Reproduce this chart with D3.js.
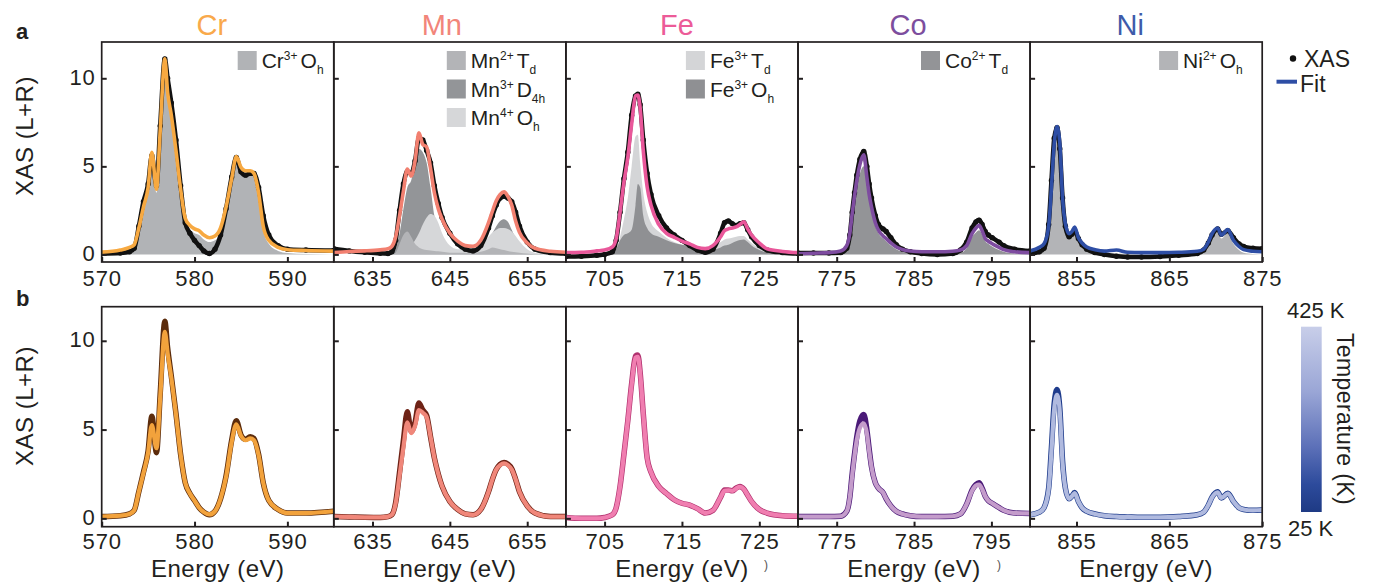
<!DOCTYPE html>
<html><head><meta charset="utf-8">
<script src="https://cdn.jsdelivr.net/npm/d3@7"></script>
<style>
body{margin:0;background:#fff}
svg{display:block}
text{font-family:"Liberation Sans",Arial,Helvetica,sans-serif;fill:#231F20}
</style>
</head><body><svg id="chart" width="1375" height="582"></svg>
<script>
// ---------------- DATA ----------------
const elements = ["Cr","Mn","Fe","Co","Ni"];

const crE    = [570,572,573,573.5,574,574.5,575,575.4,575.9,576.3,576.8,577.1,577.5,578,578.5,579,579.5,580,580.5,581,581.6,582.2,582.8,583.4,584,584.5,585,585.5,586,586.4,586.9,587.4,588,589,590,592,595];
const crXAS  = [0.05,0.08,0.15,0.35,1.6,3.0,4.0,5.6,3.9,7.3,11.1,10.0,8.6,6.5,3.9,1.8,1.2,0.8,0.5,0.2,0.05,0.3,1.1,2.6,4.4,5.5,4.7,4.5,4.6,4.6,3.8,2.2,1.1,0.5,0.3,0.25,0.22];
const crFit  = [0.13,0.25,0.4,0.55,1.5,2.7,3.8,5.8,3.7,7.0,11.1,9.2,7.9,5.9,3.7,2.05,1.65,1.45,1.35,1.1,0.95,1.05,1.5,2.7,4.3,5.55,4.95,4.75,4.75,4.6,3.5,1.6,0.8,0.4,0.27,0.22,0.19];
const crOh3  = [0,0.02,0.1,0.3,1.3,2.5,3.6,5.5,3.5,6.8,10.8,9.0,7.7,5.7,3.5,1.8,1.4,1.2,1.1,0.85,0.7,0.8,1.25,2.5,4.1,5.35,4.75,4.55,4.55,4.4,3.3,1.4,0.6,0.2,0.08,0.02,0];
const crLowT = [0.1,0.15,0.25,0.45,1.5,2.6,3.8,5.75,3.7,7.0,11.1,9.6,8.0,5.9,3.6,2.0,1.4,1.0,0.6,0.35,0.2,0.4,1.1,2.4,4.4,5.5,4.7,4.45,4.6,4.5,3.6,2.0,1.0,0.5,0.3,0.3,0.4];
const crHighT= [0.1,0.15,0.25,0.45,1.5,2.55,3.7,5.25,3.95,6.8,10.5,9.3,7.9,5.85,3.6,2.0,1.4,1.0,0.6,0.35,0.22,0.4,1.1,2.35,4.3,5.3,4.65,4.4,4.5,4.4,3.55,2.0,1.0,0.5,0.3,0.3,0.4];

const mnE    = [630,632,634,636,637,637.5,638,638.5,639,639.5,640,640.5,641,641.5,642,642.5,643,643.5,644,645,646,647,648,649,650,650.5,651,651.5,652,652.5,653,653.5,654,655,656,658,660];
const mnXAS  = [0.32,0.2,0.12,0.06,0.05,0.15,0.8,2.5,4.0,4.7,4.6,5.3,6.6,6.5,5.9,5.2,3.9,2.9,2.1,1.2,0.6,0.3,0.2,0.5,1.5,2.2,2.8,3.2,3.3,3.2,3.0,2.4,1.6,0.7,0.3,0.1,0.05];
const mnFit  = [0.1,0.17,0.2,0.26,0.32,0.45,1.0,2.2,3.6,4.85,4.45,5.3,6.9,6.25,6.1,4.9,3.5,2.6,2.0,1.2,0.75,0.5,0.46,0.8,1.8,2.45,3.05,3.4,3.55,3.3,2.8,1.9,1.25,0.65,0.35,0.18,0.12];
const mnTd2  = [0,0,0,0,0,0,0.1,0.6,1.1,1.3,1.0,0.6,0.4,0.3,0.25,0.22,0.2,0.18,0.15,0.1,0.1,0.1,0.1,0.15,0.3,0.4,0.35,0.3,0.25,0.2,0.15,0.12,0.1,0.05,0,0,0];
const mnD4h3 = [0,0,0,0,0,0.05,0.3,1.2,2.6,3.8,4.2,5.2,6.0,5.8,5.2,3.8,2.2,1.2,0.7,0.35,0.2,0.15,0.15,0.3,0.8,1.2,1.6,1.9,2.0,1.85,1.4,0.9,0.5,0.2,0.05,0,0];
const mnOh4  = [0,0,0,0,0,0,0.05,0.1,0.2,0.35,0.5,0.8,1.2,1.7,2.1,2.3,2.2,1.8,1.2,0.5,0.3,0.3,0.35,0.55,1.0,1.25,1.4,1.5,1.5,1.45,1.3,1.05,0.75,0.3,0.1,0,0];
const mnLowT = [0.1,0.08,0.06,0.05,0.1,0.2,0.9,2.6,4.4,6.0,4.9,5.4,6.5,6.1,5.8,4.6,3.4,2.5,1.8,0.95,0.5,0.25,0.2,0.5,1.5,2.2,2.75,3.05,3.15,3.05,2.8,2.2,1.5,0.7,0.3,0.1,0.1];
const mnHighT= [0.1,0.08,0.06,0.05,0.1,0.2,0.85,2.4,4.0,5.4,4.8,5.2,6.1,5.95,5.7,4.6,3.4,2.5,1.8,0.95,0.5,0.25,0.2,0.5,1.5,2.2,2.75,3.0,3.1,3.0,2.75,2.2,1.5,0.7,0.3,0.1,0.1];

const feE    = [700,702,704,705,706,706.5,707,707.5,708,708.5,709,709.3,709.6,710,710.5,711,712,713,714,715,716,717,718,719,720,720.5,721,721.5,722,722.5,723,723.5,724,725,726,728,730];
const feXAS  = [-0.12,-0.1,-0.05,0.0,0.15,0.8,2.4,4.3,5.8,7.9,9.0,9.1,8.5,6.5,4.6,3.4,2.2,1.5,1.1,0.8,0.5,0.25,0.12,0.3,1.2,1.8,1.9,1.75,1.65,1.75,1.8,1.4,1.0,0.5,0.25,0.1,0.05];
const feFit  = [0.1,0.12,0.2,0.25,0.42,0.9,2.4,4.1,5.5,7.4,9.0,9.05,8.3,5.9,3.84,2.8,1.7,1.2,0.97,0.76,0.6,0.4,0.33,0.5,1.0,1.35,1.45,1.5,1.56,1.7,1.85,1.45,1.1,0.65,0.32,0.17,0.1];
const feTd3  = [0,0,0,0,0.05,0.25,1.0,2.0,3.2,5.0,6.7,6.8,5.2,3.5,2.4,1.8,1.3,0.95,0.7,0.55,0.45,0.35,0.3,0.4,0.7,0.85,0.9,0.95,1.0,1.05,1.05,0.85,0.65,0.35,0.15,0.05,0];
const feOh3  = [0,0,0,0,0.05,0.3,0.8,1.1,1.2,1.4,2.8,4.0,3.8,2.2,1.5,1.2,1.0,0.8,0.65,0.55,0.45,0.3,0.2,0.25,0.4,0.5,0.55,0.65,0.75,0.82,0.85,0.7,0.5,0.25,0.1,0,0];
const feLowT = [0.05,0.0,0.0,0.05,0.2,0.6,1.8,3.6,5.5,7.6,9.15,9.2,8.2,5.9,3.4,2.6,1.8,1.4,1.05,0.85,0.75,0.55,0.3,0.45,1.2,1.6,1.6,1.55,1.7,1.8,1.65,1.3,0.95,0.5,0.3,0.15,0.12];
const feHighT= [0.05,0.0,0.0,0.05,0.2,0.6,1.8,3.6,5.5,7.55,9.05,9.1,8.15,5.9,3.4,2.6,1.8,1.4,1.05,0.85,0.75,0.55,0.3,0.45,1.2,1.55,1.58,1.55,1.68,1.78,1.65,1.3,0.95,0.5,0.3,0.15,0.12];

const coE    = [770,772,774,775.5,776.3,776.7,777,777.3,777.6,778,778.5,778.9,779.2,779.5,780,780.4,781,781.4,782,782.7,783.5,784.5,786,788,790,791,791.8,792.5,793,793.4,793.8,794.2,794.6,795.1,796,796.6,798,800];
const coXAS  = [0.08,0.08,0.08,0.1,0.35,1.1,2.4,3.5,4.5,5.4,5.85,5.0,4.0,3.2,2.2,1.7,1.45,1.3,0.95,0.55,0.3,0.15,0.05,0.0,0.05,0.25,0.7,1.5,1.85,1.95,1.7,1.3,1.1,0.95,0.7,0.5,0.3,0.2];
const coFit  = [0.04,0.07,0.1,0.19,0.5,1.2,2.3,3.3,4.2,5.1,5.65,4.4,3.4,2.7,1.8,1.37,1.05,0.9,0.65,0.42,0.28,0.19,0.15,0.15,0.18,0.25,0.5,1.18,1.5,1.65,1.35,0.9,0.75,0.61,0.4,0.27,0.15,0.1];
const coTd2  = [0,0,0.02,0.08,0.4,1.1,2.1,3.0,3.8,4.6,5.0,4.1,3.2,2.5,1.6,1.2,0.9,0.75,0.5,0.3,0.15,0.05,0.02,0.02,0.05,0.1,0.35,1.0,1.25,1.37,1.15,0.75,0.6,0.45,0.25,0.15,0.05,0.02];
const coLowT = [0.1,0.1,0.1,0.12,0.4,1.2,2.5,3.6,4.6,5.5,5.85,5.0,3.9,2.9,2.0,1.7,1.45,1.1,0.7,0.4,0.25,0.15,0.1,0.1,0.12,0.25,0.8,1.6,1.9,2.0,1.7,1.25,1.0,0.85,0.6,0.45,0.3,0.28];
const coHighT= [0.1,0.1,0.1,0.12,0.4,1.2,2.4,3.5,4.4,5.1,5.35,4.8,3.8,2.9,2.0,1.7,1.45,1.1,0.7,0.4,0.25,0.15,0.1,0.1,0.12,0.25,0.8,1.55,1.85,1.9,1.65,1.25,1.0,0.85,0.6,0.45,0.3,0.28];

const niE    = [850,851,851.5,852,852.3,852.6,852.9,853.2,853.5,853.8,854.2,854.5,854.8,855.2,855.6,856.1,857,858,859.3,860.5,862,864,866,868,868.7,869.2,869.6,870.2,870.6,871.3,871.9,872.5,873,874,875];
const niXAS  = [0.05,0.15,0.35,1.7,4.2,6.6,7.2,6.0,3.2,1.6,1.0,1.15,1.35,0.9,0.55,0.3,0.1,0.0,-0.1,-0.15,-0.15,-0.12,-0.05,0.05,0.25,0.65,1.1,1.45,1.15,1.35,0.95,0.6,0.45,0.35,0.32];
const niFit  = [0.2,0.4,0.6,1.6,3.8,6.3,7.26,6.3,3.2,1.75,1.18,1.3,1.56,0.95,0.65,0.42,0.27,0.19,0.25,0.12,0.1,0.1,0.12,0.18,0.3,0.7,1.18,1.5,1.1,1.41,0.8,0.45,0.27,0.18,0.15];
const niOh2  = [0,0.1,0.3,1.3,3.4,5.9,6.9,6.0,2.9,1.5,0.95,1.05,1.3,0.7,0.4,0.2,0.08,0.03,0.05,0.02,0,0,0,0.03,0.15,0.5,0.95,1.3,0.9,1.2,0.6,0.25,0.1,0.03,0];
const niLowT = [0.2,0.35,0.6,1.7,4.0,6.5,7.25,6.2,3.2,1.7,1.1,1.25,1.45,0.95,0.6,0.4,0.25,0.15,0.1,0.08,0.06,0.06,0.1,0.2,0.35,0.75,1.2,1.5,1.15,1.42,0.95,0.6,0.5,0.45,0.47];
const niHighT= [0.2,0.35,0.6,1.65,3.8,6.2,6.95,6.0,3.1,1.7,1.1,1.25,1.42,0.95,0.6,0.4,0.25,0.15,0.1,0.08,0.06,0.06,0.1,0.2,0.35,0.75,1.18,1.47,1.15,1.4,0.95,0.6,0.5,0.45,0.47];

const xDomains = [[570,595],[630,660],[700,730],[770,800],[850,875]];
const xTicks   = [[570,580,590],[635,645,655],[705,715,725],[775,785,795],[855,865,875]];
const yTicks   = [0,5,10];
const tempLabels = ["425 K","25 K"];

// ---------------- STYLE / LAYOUT ----------------
const titleColors = ["#F9A94B","#F2857A","#EC5B98","#7D4E9E","#3E5BAA"];
const fitColors   = ["#F7A941","#F28070","#E9579A","#7E4CA0","#2E4EA5"];
const lowColors   = ["#5C2C0C","#6E2216","#B0306E","#4B1A78","#1F3C8C"];
const highColors  = ["#F2A23C","#F0877A","#F07EB0","#C49CCB","#B0BADF"];
const titleDx     = [-6,-8,-5,-6,-16];
const legendDx    = [136,113,120,123,129];

const panels = [
  {E:crE, xas:crXAS, fit:crFit, low:crLowT, high:crHighT,
   comps:[{v:crOh3, c:"#B1B3B6", lab:["Cr","3+","O","h"], z:0}]},
  {E:mnE, xas:mnXAS, fit:mnFit, low:mnLowT, high:mnHighT,
   comps:[{v:mnTd2, c:"#B3B4B7", lab:["Mn","2+","T","d"], z:2},
          {v:mnD4h3,c:"#939598", lab:["Mn","3+","D","4h"], z:0},
          {v:mnOh4, c:"#D6D7D9", lab:["Mn","4+","O","h"], z:1}]},
  {E:feE, xas:feXAS, fit:feFit, low:feLowT, high:feHighT,
   comps:[{v:feTd3, c:"#D4D5D7", lab:["Fe","3+","T","d"], z:0},
          {v:feOh3, c:"#8F9093", lab:["Fe","3+","O","h"], z:1}]},
  {E:coE, xas:coXAS, fit:coFit, low:coLowT, high:coHighT,
   comps:[{v:coTd2, c:"#939497", lab:["Co","2+","T","d"], z:0}]},
  {E:niE, xas:niXAS, fit:niFit, low:niLowT, high:niHighT,
   comps:[{v:niOh2, c:"#B3B4B7", lab:["Ni","2+","O","h"], z:0}]}
];

const svg = d3.select("#chart");
const left0 = 101.7, panelW = 232.1;
const rows = [{top:42, bottom:262, dom:[-0.43,12.06], pad:8, titleY:136},
              {top:306.7, bottom:526.7, dom:[-0.47,11.92], pad:6.5, titleY:406}];
const ink = "#231F20";

const defs = svg.append("defs");
const grad = defs.append("linearGradient").attr("id","tgrad").attr("x1",0).attr("y1",0).attr("x2",0).attr("y2",1);
[["0%","#C8CEE9"],["35%","#9AA6D6"],["65%","#5C70B8"],["85%","#2D4B9C"],["100%","#1E3A84"]]
  .forEach(s=>grad.append("stop").attr("offset",s[0]).attr("stop-color",s[1]));

rows.forEach((row,ri)=>{
  const y = d3.scaleLinear().domain(row.dom).range([row.bottom,row.top]);
  panels.forEach((p,pi)=>{
    const x0 = left0 + pi*panelW;
    const x = d3.scaleLinear().domain(xDomains[pi]).range([x0,x0+panelW]);
    const cid = `clip${ri}_${pi}`;
    defs.append("clipPath").attr("id",cid).append("rect")
      .attr("x",x0).attr("y",row.top).attr("width",panelW).attr("height",row.bottom-row.top);
    const g = svg.append("g").attr("clip-path",`url(#${cid})`);
    const pts = arr => p.E.map((e,i)=>[e,arr[i]]);
    const line = d3.line().x(d=>x(d[0])).y(d=>y(d[1])).curve(d3.curveMonotoneX);
    const area = d3.area().x(d=>x(d[0])).y0(y(0)).y1(d=>y(d[1])).curve(d3.curveMonotoneX);
    if(ri===0){
      p.comps.slice().sort((a,b)=>a.z-b.z).forEach(c=>{
        g.append("path").attr("d",area(pts(c.v))).attr("fill",c.c);
      });
      g.append("path").attr("d",line(pts(p.xas))).attr("fill","none").attr("stroke","#111").attr("stroke-width",4.5);
      g.selectAll("circle.d").data(pts(p.xas)).join("circle")
        .attr("cx",d=>x(d[0])).attr("cy",d=>y(d[1])).attr("r",2.7).attr("fill","#111");
      g.append("path").attr("d",line(pts(p.fit))).attr("fill","none").attr("stroke",fitColors[pi])
        .attr("stroke-width",3.6).attr("stroke-linejoin","round");
      // component legend
      const lx = x0 + legendDx[pi];
      p.comps.forEach((c,ci)=>{
        const ly = 51 + ci*28.5;
        svg.append("rect").attr("x",lx).attr("y",ly).attr("width",19).attr("height",19).attr("fill",c.c);
        const t = svg.append("text").attr("x",lx+24).attr("y",ly+17).attr("font-size",21);
        t.append("tspan").text(c.lab[0]);
        t.append("tspan").attr("font-size",12).attr("dy",-8).text(c.lab[1]);
        t.append("tspan").attr("dy",8).attr("dx",3).text(c.lab[2]);
        t.append("tspan").attr("font-size",12).attr("dy",6).text(c.lab[3]);
      });
      svg.append("text").attr("x",x0+panelW/2+titleDx[pi]).attr("y",35).attr("text-anchor","middle")
        .attr("font-size",29).style("fill",titleColors[pi]).text(elements[pi]);
    } else {
      g.append("path").attr("d",line(pts(p.low))).attr("fill","none").attr("stroke",lowColors[pi])
        .attr("stroke-width",5.5).attr("stroke-linejoin","round");
      g.append("path").attr("d",line(pts(p.high))).attr("fill","none").attr("stroke",highColors[pi])
        .attr("stroke-width",4.2).attr("stroke-linejoin","round");
      svg.append("text").attr("x",x0+panelW/2).attr("y",576.5).attr("text-anchor","middle")
        .attr("font-size",24).attr("letter-spacing",0.5).text("Energy (eV)");
    }
    const ax = svg.append("g").attr("transform",`translate(0,${row.bottom})`)
      .call(d3.axisBottom(x).tickValues(xTicks[pi]).tickSizeInner(-5).tickSizeOuter(0).tickPadding(row.pad));
    const ay = svg.append("g").attr("transform",`translate(${x0},0)`)
      .call(d3.axisLeft(y).tickValues(yTicks).tickSizeInner(-5).tickSizeOuter(0).tickPadding(6)
        .tickFormat(pi===0?d3.format("d"):()=>""));
    [ax,ay].forEach(a=>{
      a.select(".domain").remove();
      a.selectAll(".tick line").attr("stroke",ink).attr("stroke-width",2);
      a.selectAll(".tick text").attr("font-size",22).attr("letter-spacing",0.9)
        .attr("font-family","Liberation Sans, Arial, sans-serif").style("fill",ink);
    });
    ay.selectAll(".tick text").attr("dy","0.26em");
    svg.append("rect").attr("x",x0).attr("y",row.top).attr("width",panelW).attr("height",row.bottom-row.top)
      .attr("fill","none").attr("stroke",ink).attr("stroke-width",1.7);
  });
  svg.append("text").attr("transform",`translate(33,${row.titleY}) rotate(-90)`)
    .attr("text-anchor","middle").attr("font-size",24).attr("letter-spacing",0.5).text("XAS (L+R)");
});

svg.append("text").attr("x",16).attr("y",39).attr("font-size",22).attr("font-weight","bold").text("a");
svg.append("text").attr("x",16).attr("y",306).attr("font-size",22).attr("font-weight","bold").text("b");

svg.append("circle").attr("cx",1293).attr("cy",58.5).attr("r",3.2).attr("fill","#111");
svg.append("text").attr("x",1304).attr("y",67).attr("font-size",23).text("XAS");
svg.append("line").attr("x1",1276.5).attr("x2",1297).attr("y1",81.7).attr("y2",81.7)
  .attr("stroke",fitColors[4]).attr("stroke-width",4);
svg.append("text").attr("x",1300).attr("y",92).attr("font-size",23).text("Fit");

svg.append("rect").attr("x",1301).attr("y",326.7).attr("width",20.7).attr("height",185.3).attr("fill","url(#tgrad)");
svg.append("text").attr("x",1287).attr("y",318).attr("font-size",22).text(tempLabels[0]);
svg.append("text").attr("x",1288).attr("y",536).attr("font-size",22).text(tempLabels[1]);
svg.append("text").attr("transform","translate(1337,419) rotate(90)").attr("text-anchor","middle")
  .attr("font-size",23).attr("letter-spacing",0.4).text("Temperature (K)");

svg.append("text").attr("x",764).attr("y",569).attr("font-size",12).style("fill","#555").text(")");
svg.append("text").attr("x",997).attr("y",569).attr("font-size",12).style("fill","#555").text(")");
</script>
</body></html>
